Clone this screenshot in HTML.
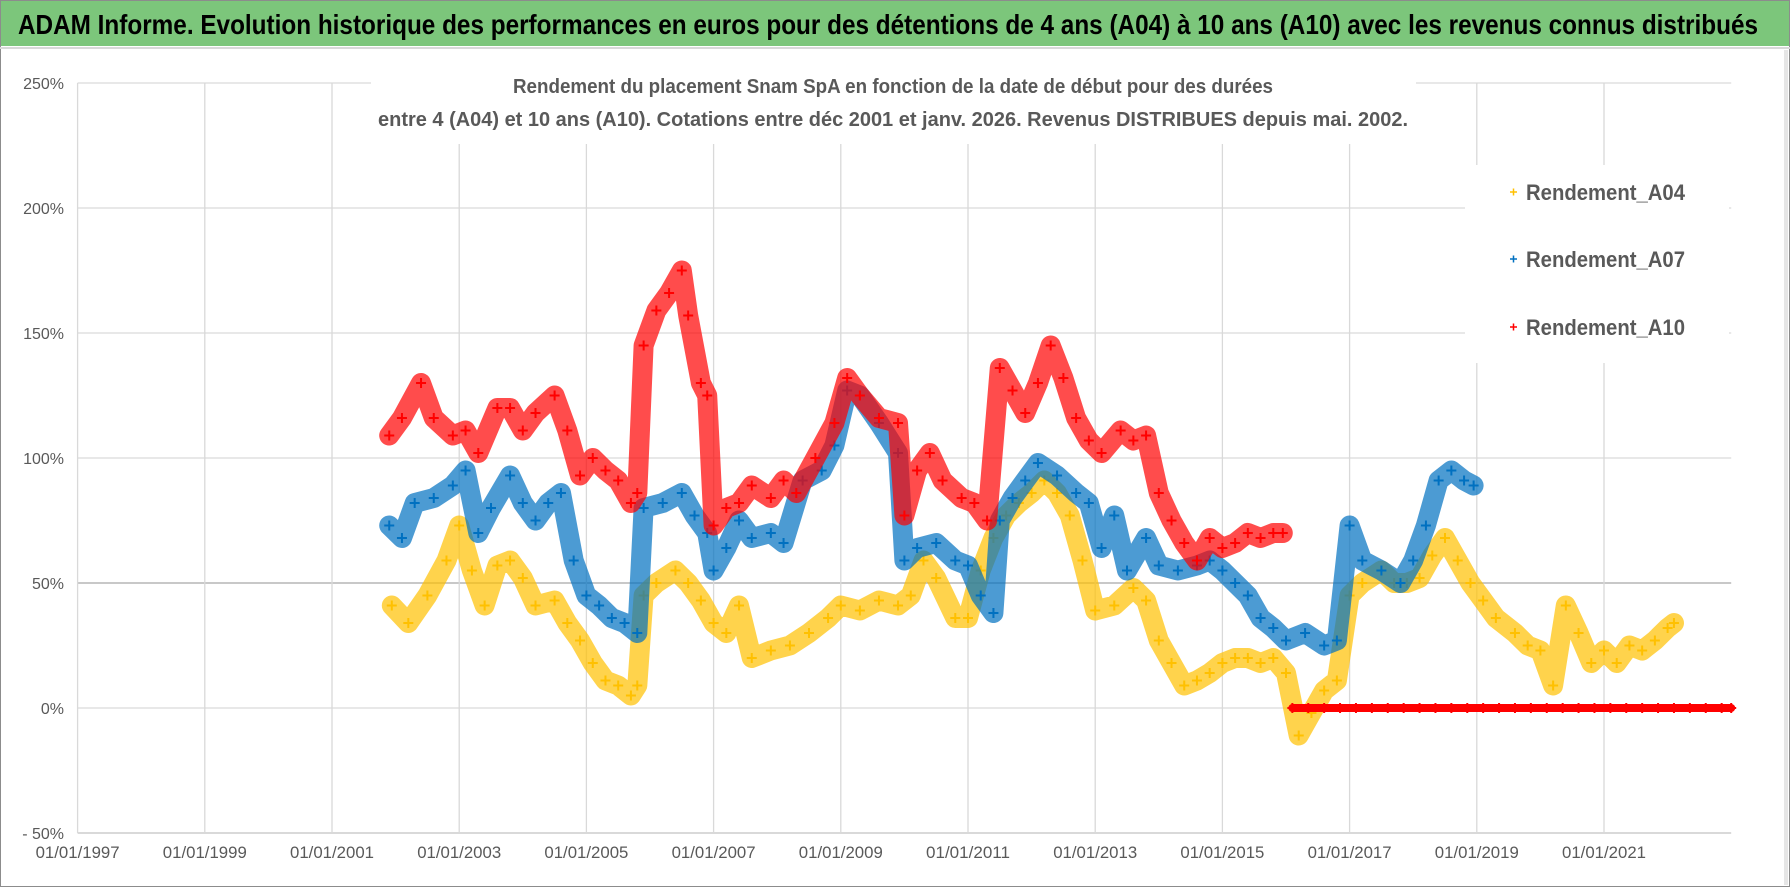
<!DOCTYPE html>
<html><head><meta charset="utf-8"><style>
html,body{margin:0;padding:0;background:#fff;}
svg{display:block;font-family:"Liberation Sans",sans-serif;}
</style></head><body>
<svg id="chart" width="1790" height="887" viewBox="0 0 1790 887" xmlns="http://www.w3.org/2000/svg">
<rect x="0" y="0" width="1790" height="887" fill="#fff" stroke="#8c8c8c" stroke-width="2"/>
<rect x="1" y="1" width="1788" height="45" fill="#7cc67b"/>
<line x1="0" y1="48" x2="1790" y2="48" stroke="#d9d9d9" stroke-width="2"/>
<text x="18" y="34" font-size="28" font-weight="bold" fill="#000" textLength="1740" lengthAdjust="spacingAndGlyphs">ADAM Informe. Evolution historique des performances en euros pour des détentions de 4 ans (A04) à 10 ans (A10) avec les revenus connus distribués</text>
<rect x="1784" y="50" width="4" height="835" fill="#e6e6e6"/>
<g id="grid"></g>
<g id="yticks"></g>
<g id="xticks"></g>
<g id="series"></g>
<rect x="371" y="74" width="1045" height="70" fill="#fff"/>
<text x="893" y="93" font-size="20" font-weight="bold" fill="#595959" text-anchor="middle" textLength="760" lengthAdjust="spacingAndGlyphs">Rendement du placement Snam SpA en fonction de la date de début pour des durées</text>
<text x="893" y="126" font-size="20" font-weight="bold" fill="#595959" text-anchor="middle" textLength="1030" lengthAdjust="spacingAndGlyphs">entre 4 (A04) et 10 ans (A10). Cotations entre déc 2001 et janv. 2026. Revenus DISTRIBUES depuis mai. 2002.</text>
<g>
<rect x="1465" y="165" width="264" height="198" fill="#fff"/>
<g><path d="M1510 192h7M1513.5 188.5v7" stroke="#FFC000" stroke-width="1.5"/><text x="1526" y="200" font-size="22" font-weight="bold" fill="#595959" textLength="159" lengthAdjust="spacingAndGlyphs">Rendement_A04</text></g>
<g><path d="M1510 259h7M1513.5 255.5v7" stroke="#0070C0" stroke-width="1.5"/><text x="1526" y="267" font-size="22" font-weight="bold" fill="#595959" textLength="159" lengthAdjust="spacingAndGlyphs">Rendement_A07</text></g>
<g><path d="M1510 327h7M1513.5 323.5v7" stroke="#FF0000" stroke-width="1.5"/><text x="1526" y="335" font-size="22" font-weight="bold" fill="#595959" textLength="159" lengthAdjust="spacingAndGlyphs">Rendement_A10</text></g>
</g>
</svg>
<script>
const yTickValues=[250,200,150,100,50,0,-50];
const yTickLabels=["250%","200%","150%","100%","50%","0%","- 50%"];
const xTickYears=[1997,1999,2001,2003,2005,2007,2009,2011,2013,2015,2017,2019,2021];
const xTickLabels=["01/01/1997","01/01/1999","01/01/2001","01/01/2003","01/01/2005","01/01/2007","01/01/2009","01/01/2011","01/01/2013","01/01/2015","01/01/2017","01/01/2019","01/01/2021"];
const a04Dates=[2001.94,2002.2,2002.5,2002.8,2003.0,2003.2,2003.4,2003.6,2003.8,2004.0,2004.2,2004.5,2004.7,2004.9,2005.1,2005.3,2005.5,2005.7,2005.8,2005.9,2006.1,2006.4,2006.6,2006.8,2007.0,2007.2,2007.4,2007.6,2007.9,2008.2,2008.5,2008.8,2009.0,2009.3,2009.6,2009.9,2010.1,2010.3,2010.5,2010.8,2011.0,2011.2,2011.4,2011.6,2011.8,2012.0,2012.2,2012.4,2012.6,2012.8,2013.0,2013.3,2013.6,2013.8,2014.0,2014.2,2014.4,2014.6,2014.8,2015.0,2015.2,2015.4,2015.6,2015.8,2016.0,2016.2,2016.4,2016.6,2016.8,2017.0,2017.2,2017.5,2017.7,2017.9,2018.1,2018.3,2018.5,2018.7,2018.9,2019.1,2019.3,2019.6,2019.8,2020.0,2020.2,2020.4,2020.6,2020.8,2021.0,2021.2,2021.4,2021.6,2021.8,2022.0,2022.1];
const a04Values=[41,34,45,59,73,55,41,57,59,52,41,43,34,27,18,11,9,5,9,45,50,55,50,43,34,30,41,20,23,25,30,36,41,39,43,41,45,59,52,36,36,55,68,77,82,86,91,86,77,59,39,41,48,43,27,18,9,11,14,18,20,20,18,20,14,-11,-2,7,11,45,50,55,50,50,52,61,68,59,50,43,36,30,25,23,9,41,30,18,23,18,25,23,27,32,34];
const a07Dates=[2001.9,2002.1,2002.3,2002.6,2002.9,2003.1,2003.3,2003.5,2003.8,2004.0,2004.2,2004.4,2004.6,2004.8,2005.0,2005.2,2005.4,2005.6,2005.8,2005.9,2006.2,2006.5,2006.7,2006.9,2007.0,2007.2,2007.4,2007.6,2007.9,2008.1,2008.4,2008.7,2008.9,2009.1,2009.3,2009.6,2009.9,2010.0,2010.2,2010.5,2010.8,2011.0,2011.2,2011.4,2011.5,2011.7,2011.9,2012.1,2012.4,2012.7,2012.9,2013.1,2013.3,2013.5,2013.8,2014.0,2014.3,2014.6,2014.8,2015.0,2015.2,2015.4,2015.6,2015.8,2016.0,2016.3,2016.6,2016.8,2017.0,2017.2,2017.5,2017.8,2018.0,2018.2,2018.4,2018.6,2018.8,2018.95];
const a07Values=[73,68,82,84,89,95,70,80,93,82,75,82,86,59,45,41,36,34,30,80,82,86,77,70,55,64,75,68,70,66,91,95,105,127,125,114,102,59,64,66,59,57,45,38,75,84,91,98,93,86,82,64,77,55,68,57,55,57,59,55,50,45,36,32,27,30,25,27,73,59,55,50,59,73,91,95,91,89];
const a10Dates=[2001.9,2002.1,2002.4,2002.6,2002.9,2003.1,2003.3,2003.6,2003.8,2004.0,2004.2,2004.5,2004.7,2004.9,2005.1,2005.3,2005.5,2005.7,2005.8,2005.9,2006.1,2006.3,2006.5,2006.6,2006.8,2006.9,2007.0,2007.2,2007.4,2007.6,2007.9,2008.1,2008.3,2008.6,2008.9,2009.1,2009.3,2009.6,2009.9,2010.0,2010.2,2010.4,2010.6,2010.9,2011.1,2011.3,2011.5,2011.7,2011.9,2012.1,2012.3,2012.5,2012.7,2012.9,2013.1,2013.4,2013.6,2013.8,2014.0,2014.2,2014.4,2014.6,2014.8,2015.0,2015.2,2015.4,2015.6,2015.8,2015.95];
const a10Values=[109,116,130,116,109,111,102,120,120,111,118,125,111,93,100,95,91,82,86,145,159,166,175,157,130,125,73,80,82,89,84,91,86,100,114,132,125,116,114,77,95,102,91,84,82,75,136,127,118,130,145,132,116,107,102,111,107,109,86,75,66,59,68,64,66,70,68,70,70];
const a10ZeroDates=[2016.1,2016.35,2016.6,2016.85,2017.1,2017.35,2017.6,2017.85,2018.1,2018.35,2018.6,2018.85,2019.1,2019.35,2019.6,2019.85,2020.1,2020.35,2020.6,2020.85,2021.1,2021.35,2021.6,2021.85,2022.1,2022.35,2022.6,2022.85,2023.0];
const a10ZeroValues=[0,0,0,0,0,0,0,0,0,0,0,0,0,0,0,0,0,0,0,0,0,0,0,0,0,0,0,0,0];

const NS="http://www.w3.org/2000/svg";
const X0=77.6,XPY=63.6,Y0=708,YP=2.5;
function xs(yr){return X0+(yr-1997)*XPY;}
function ys(v){return Y0-v*YP;}
function mk(tag,attrs,parent){const e=document.createElementNS(NS,tag);for(const k in attrs)e.setAttribute(k,attrs[k]);parent.appendChild(e);return e;}
const grid=document.getElementById('grid'),yt=document.getElementById('yticks'),xt=document.getElementById('xticks'),ser=document.getElementById('series');
const left=xs(1997),right=xs(2023);
yTickValues.forEach((v,i)=>{
  const l=mk('line',{x1:left,x2:right,y1:ys(v),y2:ys(v),stroke:(v===50?'#a6a6a6':'#d9d9d9'),'stroke-width':(v===-50?2:1.3)},grid);
  
  
  const t=mk('text',{x:64,y:ys(v)+6,'font-size':16,fill:'#595959','text-anchor':'end'},yt);
  t.textContent=yTickLabels[i];
  
  
});
xTickYears.forEach((yr,i)=>{
  const l=mk('line',{x1:xs(yr),x2:xs(yr),y1:ys(250),y2:ys(-50),stroke:'#d9d9d9','stroke-width':1.3},grid);
  
  
  const t=mk('text',{x:xs(yr),y:858,'font-size':17,fill:'#595959','text-anchor':'middle',textLength:84,lengthAdjust:'spacingAndGlyphs'},xt);
  t.textContent=xTickLabels[i];
  
  
});
function drawSeries(dates,vals,color,name,band,op){
  const g=mk('g',{},ser);
  
  
  const pts=dates.map((d,i)=>xs(d).toFixed(1)+','+ys(vals[i]).toFixed(1)).join(' ');
  const pl=mk('polyline',{points:pts,fill:'none',stroke:color,'stroke-width':band,'stroke-linejoin':'round','stroke-linecap':'round',opacity:op},g);
  
  
  dates.forEach((d,i)=>{
    const x=xs(d),y=ys(vals[i]);
    const p=mk('path',{d:`M${x-5} ${y}h10M${x} ${y-5}v10`,stroke:color,'stroke-width':2},g);
    
    
  });
}
drawSeries(a04Dates,a04Values,'#FFC000','series-a04',20,0.7);
drawSeries(a07Dates,a07Values,'#0070C0','series-a07',20,0.7);
drawSeries(a10Dates,a10Values,'#FF0000','series-a10',20,0.7);
drawSeries(a10ZeroDates,a10ZeroValues,'#FF0000','series-a10-zero',8,1);
</script>
</body></html>
